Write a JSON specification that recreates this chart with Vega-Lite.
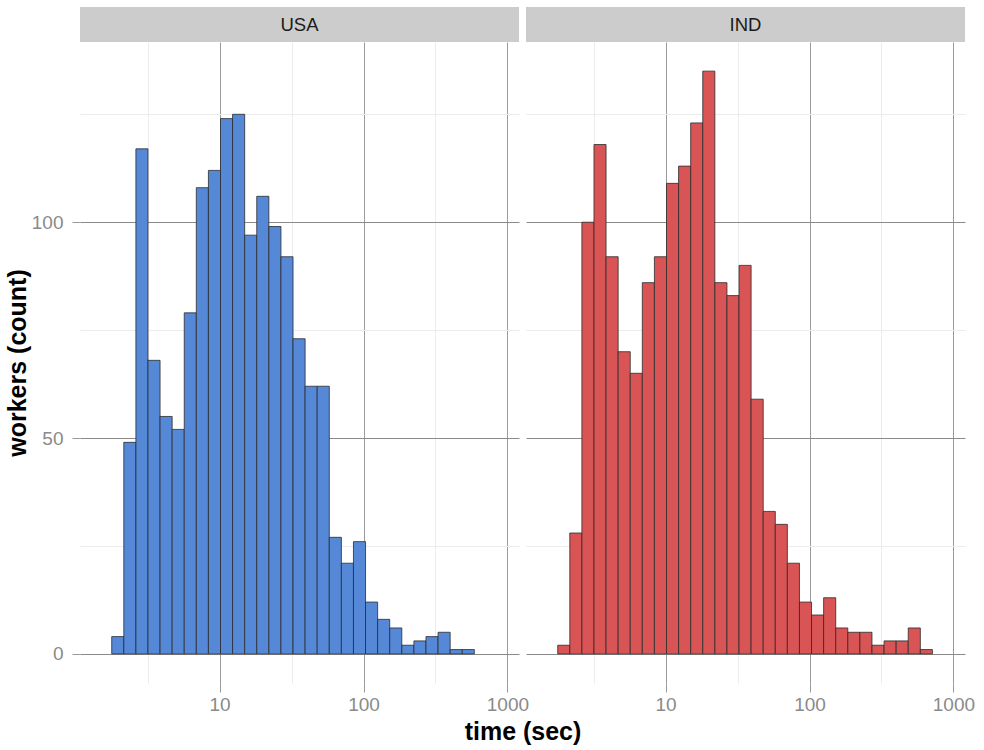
{
  "$schema": "https://vega.github.io/schema/vega-lite/v6.json",
  "background": "white",
  "padding": {"left": 5, "top": 7, "right": 5, "bottom": 3},
  "spacing": 0,
  "config": {
    "view": {"stroke": null},
    "font": "Liberation Sans"
  },
  "datasets": {
    "strips": [{"country": "USA"}, {"country": "IND"}],
    "bins": [
      {"country": "USA", "start": 1.7792, "end": 2.1589, "count": 4},
      {"country": "USA", "start": 2.1589, "end": 2.6195, "count": 49},
      {"country": "USA", "start": 2.6195, "end": 3.1782, "count": 117},
      {"country": "USA", "start": 3.1782, "end": 3.8562, "count": 68},
      {"country": "USA", "start": 3.8562, "end": 4.6796, "count": 55},
      {"country": "USA", "start": 4.6796, "end": 5.6784, "count": 52},
      {"country": "USA", "start": 5.6784, "end": 6.8896, "count": 79},
      {"country": "USA", "start": 6.8896, "end": 8.3599, "count": 108},
      {"country": "USA", "start": 8.3599, "end": 10.144, "count": 112},
      {"country": "USA", "start": 10.144, "end": 12.309, "count": 124},
      {"country": "USA", "start": 12.309, "end": 14.936, "count": 125},
      {"country": "USA", "start": 14.936, "end": 18.122, "count": 97},
      {"country": "USA", "start": 18.122, "end": 21.989, "count": 106},
      {"country": "USA", "start": 21.989, "end": 26.683, "count": 99},
      {"country": "USA", "start": 26.683, "end": 32.375, "count": 92},
      {"country": "USA", "start": 32.375, "end": 39.28, "count": 73},
      {"country": "USA", "start": 39.28, "end": 47.67, "count": 62},
      {"country": "USA", "start": 47.67, "end": 57.84, "count": 62},
      {"country": "USA", "start": 57.84, "end": 70.18, "count": 27},
      {"country": "USA", "start": 70.18, "end": 85.15, "count": 21},
      {"country": "USA", "start": 85.15, "end": 103.32, "count": 26},
      {"country": "USA", "start": 103.32, "end": 125.37, "count": 12},
      {"country": "USA", "start": 125.37, "end": 152.13, "count": 8},
      {"country": "USA", "start": 152.13, "end": 184.59, "count": 6},
      {"country": "USA", "start": 184.59, "end": 223.97, "count": 2},
      {"country": "USA", "start": 223.97, "end": 271.77, "count": 3},
      {"country": "USA", "start": 271.77, "end": 329.76, "count": 4},
      {"country": "USA", "start": 329.76, "end": 400.13, "count": 5},
      {"country": "USA", "start": 400.13, "end": 485.51, "count": 1},
      {"country": "USA", "start": 485.51, "end": 589.11, "count": 1},
      {"country": "IND", "start": 1.7792, "end": 2.1589, "count": 2},
      {"country": "IND", "start": 2.1589, "end": 2.6195, "count": 28},
      {"country": "IND", "start": 2.6195, "end": 3.1782, "count": 100},
      {"country": "IND", "start": 3.1782, "end": 3.8562, "count": 118},
      {"country": "IND", "start": 3.8562, "end": 4.6796, "count": 92},
      {"country": "IND", "start": 4.6796, "end": 5.6784, "count": 70},
      {"country": "IND", "start": 5.6784, "end": 6.8896, "count": 65},
      {"country": "IND", "start": 6.8896, "end": 8.3599, "count": 86},
      {"country": "IND", "start": 8.3599, "end": 10.144, "count": 92},
      {"country": "IND", "start": 10.144, "end": 12.309, "count": 109},
      {"country": "IND", "start": 12.309, "end": 14.936, "count": 113},
      {"country": "IND", "start": 14.936, "end": 18.122, "count": 123},
      {"country": "IND", "start": 18.122, "end": 21.989, "count": 135},
      {"country": "IND", "start": 21.989, "end": 26.683, "count": 86},
      {"country": "IND", "start": 26.683, "end": 32.375, "count": 83},
      {"country": "IND", "start": 32.375, "end": 39.28, "count": 90},
      {"country": "IND", "start": 39.28, "end": 47.67, "count": 59},
      {"country": "IND", "start": 47.67, "end": 57.84, "count": 33},
      {"country": "IND", "start": 57.84, "end": 70.18, "count": 30},
      {"country": "IND", "start": 70.18, "end": 85.15, "count": 21},
      {"country": "IND", "start": 85.15, "end": 103.32, "count": 12},
      {"country": "IND", "start": 103.32, "end": 125.37, "count": 9},
      {"country": "IND", "start": 125.37, "end": 152.13, "count": 13},
      {"country": "IND", "start": 152.13, "end": 184.59, "count": 6},
      {"country": "IND", "start": 184.59, "end": 223.97, "count": 5},
      {"country": "IND", "start": 223.97, "end": 271.77, "count": 5},
      {"country": "IND", "start": 271.77, "end": 329.76, "count": 2},
      {"country": "IND", "start": 329.76, "end": 400.13, "count": 3},
      {"country": "IND", "start": 400.13, "end": 485.51, "count": 3},
      {"country": "IND", "start": 485.51, "end": 589.11, "count": 6},
      {"country": "IND", "start": 589.11, "end": 714.83, "count": 1}
    ]
  },
  "vconcat": [
    {
      "data": {"name": "strips"},
      "spacing": 7,
      "facet": {
        "column": {"field": "country", "type": "nominal", "sort": ["USA", "IND"], "header": {"labels": false, "title": null}}
      },
      "spec": {
        "width": 439,
        "height": 35,
        "layer": [
          {"mark": {"type": "rect", "color": "#cccccc"}, "encoding": {}},
          {
            "mark": {"type": "text", "fontSize": 18.5, "color": "#1a1a1a", "font": "Liberation Sans"},
            "encoding": {
              "text": {"field": "country", "type": "nominal"},
              "y": {
                "datum": 0.5,
                "type": "quantitative",
                "scale": {"domain": [0, 1], "nice": false, "zero": false},
                "axis": {"title": null, "labels": false, "ticks": false, "domain": false, "grid": false, "minExtent": 75, "maxExtent": 75}
              }
            }
          }
        ]
      }
    },
    {
      "data": {"name": "bins"},
      "spacing": 7,
      "facet": {
        "column": {
          "field": "country",
          "type": "nominal",
          "sort": ["USA", "IND"],
          "title": "time (sec)",
          "header": {
            "labels": false,
            "titleOrient": "bottom",
            "titleFont": "Liberation Sans",
            "titleFontSize": 25,
            "titleFontWeight": "bold",
            "titleColor": "#000000",
            "titlePadding": -4
          }
        }
      },
      "spec": {
        "width": 439,
        "height": 641,
        "mark": {"type": "bar", "stroke": "#2b2b2b", "strokeWidth": 0.8},
        "encoding": {
          "x": {
            "field": "start",
            "type": "quantitative",
            "scale": {"type": "log", "domain": [1.071, 1204], "nice": false},
            "axis": {
              "title": null,
              "values": [3.16228, 10, 31.6228, 100, 316.228, 1000],
              "labelExpr": "(datum.value === 10 || datum.value === 100 || datum.value === 1000) ? ('' + datum.value) : ''",
              "labelOverlap": false,
              "labelFlush": false,
              "domain": false,
              "grid": true,
              "gridColor": {"condition": {"test": "datum.value === 10 || datum.value === 100 || datum.value === 1000", "value": "#9a9a9a"}, "value": "#ececec"},
              "gridWidth": 1,
              "tickOpacity": {"condition": {"test": "datum.value === 10 || datum.value === 100 || datum.value === 1000", "value": 1}, "value": 0},
              "tickColor": "#9a9a9a",
              "tickSize": 9,
              "labelPadding": 3,
              "labelFontSize": 19,
              "labelColor": "#8a8a8a",
              "labelFont": "Liberation Sans"
            }
          },
          "x2": {"field": "end"},
          "y": {
            "field": "count",
            "type": "quantitative",
            "scale": {"domain": [-6.75, 141.75], "nice": false, "zero": false},
            "axis": {
              "title": "workers (count)",
              "values": [0, 25, 50, 75, 100, 125],
              "labelExpr": "datum.value % 50 === 0 ? datum.label : ''",
              "labelOverlap": false,
              "domain": false,
              "grid": true,
              "gridColor": {"condition": {"test": "datum.value % 50 === 0", "value": "#8a8a8a"}, "value": "#ececec"},
              "gridWidth": 1,
              "tickOpacity": {"condition": {"test": "datum.value % 50 === 0", "value": 1}, "value": 0},
              "tickColor": "#9a9a9a",
              "tickSize": 8,
              "labelPadding": 9,
              "labelFontSize": 19,
              "labelColor": "#8a8a8a",
              "labelFont": "Liberation Sans",
              "titleFont": "Liberation Sans",
              "titleFontSize": 25,
              "titleFontWeight": "bold",
              "titleColor": "#000000",
              "titlePadding": 1
            }
          },
          "y2": {"datum": 0},
          "color": {
            "field": "country",
            "type": "nominal",
            "scale": {"domain": ["USA", "IND"], "range": ["#5589D8", "#D95455"]},
            "legend": null
          }
        }
      }
    }
  ]
}
